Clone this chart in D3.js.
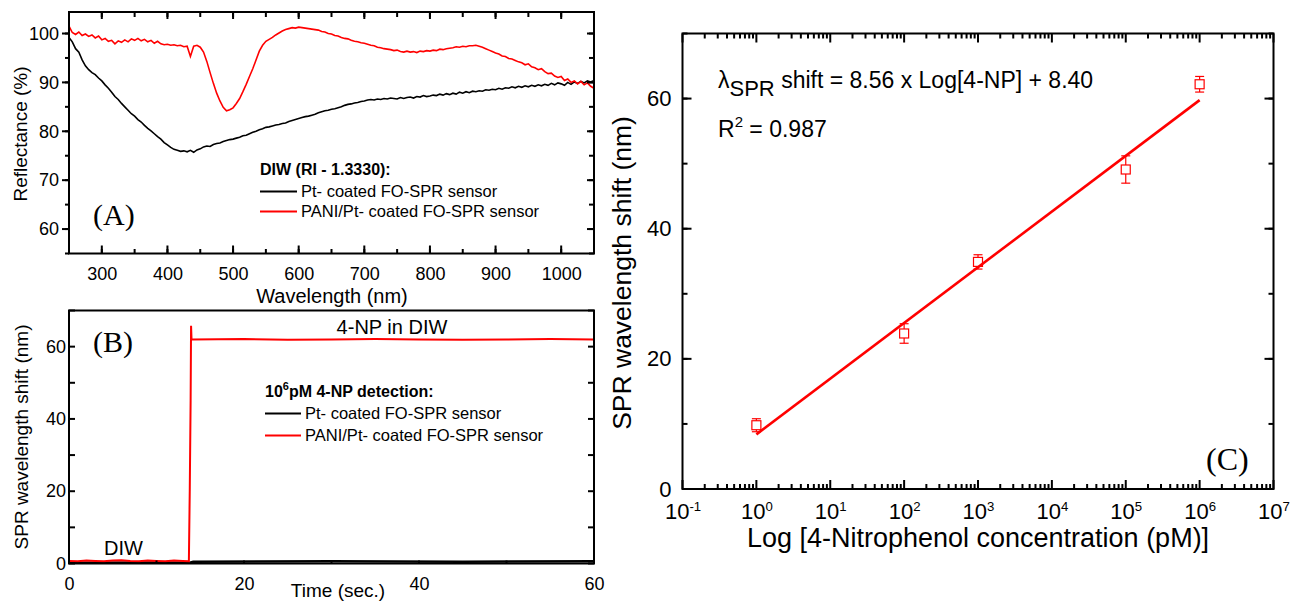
<!DOCTYPE html>
<html>
<head>
<meta charset="utf-8">
<script src="https://cdn.jsdelivr.net/npm/d3@7"></script>
<style>
body { margin: 0; background: #fff; }
svg { font-family: Arial, "Liberation Sans", sans-serif; }
</style>
</head>
<body>
<svg id="fig" width="1292" height="603"></svg>
<script>
// ---- data ----

// (A) reflectance spectra, every 5 nm from 250 to 1050 nm
var wavelength = d3.range(250, 1051, 5);
var reflPANI = [
  101.5,100.2,99.8,100.3,99.6,99.9,99.4,99.7,99.1,99.5,
  98.7,99.0,98.4,98.6,97.9,98.5,98.2,98.7,98.3,98.9,
  98.6,99.0,98.5,98.8,98.3,98.6,98.0,98.4,97.9,97.7,
  97.8,97.6,97.7,97.5,97.6,97.3,97.4,95.3,97.4,97.6,
  97.2,96.2,94.3,92.0,89.8,87.8,86.2,84.9,84.2,84.4,
  84.8,85.7,86.7,88.1,89.6,91.2,92.8,94.6,96.4,97.6,
  98.4,98.8,99.2,99.7,100.1,100.5,100.8,101.0,101.2,101.1,
  101.3,101.2,101.1,101.0,100.9,100.8,100.7,100.4,100.3,100.0,
  99.9,99.6,99.5,99.2,99.0,98.9,98.6,98.4,98.3,98.1,
  98.0,97.8,97.6,97.5,97.2,97.1,96.9,96.8,96.7,96.5,
  96.6,96.3,96.2,96.4,96.2,96.3,96.1,96.4,96.3,96.5,
  96.4,96.6,96.5,96.8,96.7,96.9,97.0,97.1,97.3,97.2,
  97.4,97.3,97.5,97.5,97.6,97.4,97.2,96.9,96.6,96.3,
  96.0,95.8,95.4,95.3,94.9,94.8,94.5,94.2,94.0,93.6,
  93.8,93.2,93.0,92.6,92.8,92.2,91.8,91.9,91.3,91.0,
  91.2,90.4,90.7,90.0,90.3,89.7,90.2,89.5,89.9,89.2,
  88.8
];
var reflPt = [
  99.2,98.3,96.9,96.2,94.6,93.4,92.6,92.0,91.6,90.9,
  90.3,89.5,88.8,88.0,87.1,86.5,85.7,85.0,84.3,83.6,
  83.1,82.4,81.9,81.2,80.6,80.1,79.5,78.9,78.4,77.7,
  77.2,76.7,76.3,76.1,75.9,76.0,75.8,76.1,75.7,76.2,
  76.4,76.8,77.0,76.9,77.3,77.5,77.6,77.9,78.1,78.3,
  78.4,78.6,78.8,79.1,79.2,79.5,79.8,80.0,80.3,80.5,
  80.8,80.9,81.1,81.3,81.4,81.6,81.7,82.0,82.2,82.4,
  82.6,82.8,83.0,83.1,83.3,83.5,83.8,84.0,84.2,84.3,
  84.5,84.6,84.8,85.0,85.3,85.5,85.6,85.8,85.9,86.1,
  86.2,86.4,86.5,86.4,86.6,86.5,86.7,86.6,86.8,86.7,
  86.6,86.9,86.7,86.9,87.0,86.8,87.1,87.0,87.3,87.1,
  87.2,87.4,87.3,87.6,87.4,87.7,87.5,87.8,87.6,88.0,
  87.8,88.1,87.9,88.2,88.1,88.3,88.2,88.5,88.4,88.6,
  88.5,88.8,88.6,88.9,88.8,89.1,88.9,89.2,89.0,89.3,
  89.1,89.4,89.2,89.5,89.3,89.6,89.4,89.8,89.5,89.9,
  89.7,89.4,90.0,89.6,90.1,89.8,90.2,89.9,90.3,90.1,
  90.4
];
var waveTicks = [300, 400, 500, 600, 700, 800, 900, 1000];
var reflTicks = [60, 70, 80, 90, 100];

// (B) real-time response
var redTime  = [0, 1, 2, 3, 4, 5, 6, 7, 8, 9, 10, 11, 12, 13, 13.7, 13.8, 13.9, 13.95, 14.0, 14.1, 20, 25, 30, 35, 40, 45, 50, 55, 60];
var redShift = [0.7, 0.6, 0.8, 0.7, 0.6, 0.8, 0.9, 0.7, 0.6, 0.8, 0.7, 0.6, 0.8, 0.7, 0.6, 20, 45, 65.8, 62.2, 62.0, 62.1, 61.9, 62.0, 62.1, 62.0, 61.9, 62.0, 62.1, 62.0];
var blackTime  = [0, 10, 13.8, 14.2, 30, 45, 60];
var blackShift = [0.2, 0.3, 0.2, 0.5, 0.6, 0.5, 0.6];
var timeTicks = [0, 20, 40, 60];
var shiftTicksB = [0, 20, 40, 60];

// (C) calibration
var conc     = [1, 1e2, 1e3, 1e5, 1e6];
var shiftC   = [9.8, 23.9, 34.9, 49.1, 62.2];
var errC     = [1.0, 1.5, 1.1, 2.1, 1.2];
var fitConc  = [1, 1e6];
var fitShift = [8.40, 59.76];
var decadeTicks = [1e-1, 1e0, 1e1, 1e2, 1e3, 1e4, 1e5, 1e6, 1e7];
var shiftTicksC = [0, 20, 40, 60];

var RED = "#ff0000";
var svg = d3.select("#fig");

// labels only from d3 axes, tick marks drawn separately
function labelAxis(g, fs) {
  g.select(".domain").remove();
  g.selectAll(".tick line").remove();
  g.selectAll(".tick text").attr("fill", "#000").attr("font-size", fs);
  return g;
}

// tick marks: len > 0 points into the plot, len < 0 points out
function marks(scale, values, side, pos, len) {
  var horiz = side === "bottom" || side === "top";
  var sgn = (side === "bottom" || side === "right") ? -1 : 1;
  svg.append("g").selectAll("line").data(values).join("line")
    .attr("x1", function (d) { return horiz ? scale(d) : pos; })
    .attr("x2", function (d) { return horiz ? scale(d) : pos + sgn * len; })
    .attr("y1", function (d) { return horiz ? pos : scale(d); })
    .attr("y2", function (d) { return horiz ? pos + sgn * len : scale(d); })
    .attr("stroke", "#000").attr("stroke-width", 2);
}

function frame(x0, y0, x1, y1) {
  svg.append("rect").attr("x", x0).attr("y", y0)
    .attr("width", x1 - x0).attr("height", y1 - y0)
    .attr("fill", "none").attr("stroke", "#000").attr("stroke-width", 2);
}

// ================= Panel A =================
var xA = d3.scaleLinear().domain([250, 1050]).range([69, 594]);
var yA = d3.scaleLinear().domain([55, 104.4]).range([253.5, 12]);
var minorWave = d3.range(250, 1051, 50);
var minorRefl = d3.range(55, 105, 5);

svg.append("defs").append("clipPath").attr("id", "clipA").append("rect")
  .attr("x", 69).attr("y", 12).attr("width", 525).attr("height", 241.5);

var lineA = function (vals) {
  return d3.line().x(function (d, i) { return xA(wavelength[i]); })
    .y(function (d) { return yA(d); })(vals);
};
svg.append("path").attr("d", lineA(reflPt)).attr("clip-path", "url(#clipA)")
  .attr("fill", "none").attr("stroke", "#000").attr("stroke-width", 1.6);
svg.append("path").attr("d", lineA(reflPANI)).attr("clip-path", "url(#clipA)")
  .attr("fill", "none").attr("stroke", RED).attr("stroke-width", 1.6);

marks(xA, minorWave, "bottom", 253.5, 4.5);
marks(xA, waveTicks, "bottom", 253.5, 8);
marks(xA, minorWave, "top", 12, 5);
marks(xA, waveTicks, "top", 12, 7);
marks(yA, minorRefl, "left", 69, -4);
marks(yA, reflTicks, "left", 69, -7);
marks(yA, minorRefl, "right", 594, 5);
marks(yA, reflTicks, "right", 594, 7);

svg.append("g").attr("transform", "translate(0,253.5)")
  .call(d3.axisBottom(xA).tickValues(waveTicks).tickSize(0).tickPadding(14).tickFormat(d3.format("d")))
  .call(labelAxis, 18);
svg.append("g").attr("transform", "translate(69,0)")
  .call(d3.axisLeft(yA).tickValues(reflTicks).tickSize(0).tickPadding(10))
  .call(labelAxis, 18);

frame(69, 12, 594, 253.5);

svg.append("text").attr("transform", "translate(27,134) rotate(-90)")
  .attr("text-anchor", "middle").attr("font-size", 19).text("Reflectance (%)");
svg.append("text").attr("x", 332).attr("y", 303)
  .attr("text-anchor", "middle").attr("font-size", 20).text("Wavelength (nm)");
svg.append("text").attr("x", 93).attr("y", 225)
  .attr("font-family", "'Liberation Serif','Times New Roman',serif")
  .attr("font-size", 30).text("(A)");

// legend A
svg.append("text").attr("x", 260).attr("y", 175).attr("font-size", 16)
  .attr("font-weight", "bold").text("DIW (RI - 1.3330):");
svg.append("line").attr("x1", 260).attr("x2", 297).attr("y1", 191.5).attr("y2", 191.5)
  .attr("stroke", "#000").attr("stroke-width", 2);
svg.append("text").attr("x", 301).attr("y", 197).attr("font-size", 16.5)
  .text("Pt- coated FO-SPR sensor");
svg.append("line").attr("x1", 260).attr("x2", 297).attr("y1", 211.5).attr("y2", 211.5)
  .attr("stroke", RED).attr("stroke-width", 2);
svg.append("text").attr("x", 301).attr("y", 217).attr("font-size", 16.5)
  .text("PANI/Pt- coated FO-SPR sensor");

// ================= Panel B =================
var xB = d3.scaleLinear().domain([0, 60]).range([69, 594]);
var yB = d3.scaleLinear().domain([0, 70]).range([563.5, 310.5]);
var minorShiftB = d3.range(0, 71, 10);
var minorTimeB = d3.range(0, 61, 10);

var lineB = function (ts, vs) {
  return d3.line().x(function (d, i) { return xB(ts[i]); })
    .y(function (d) { return yB(d); })(vs);
};
svg.append("path").attr("d", lineB(blackTime, blackShift))
  .attr("fill", "none").attr("stroke", "#000").attr("stroke-width", 2.5);
svg.append("path").attr("d", lineB(redTime, redShift))
  .attr("fill", "none").attr("stroke", RED).attr("stroke-width", 2);

marks(yB, minorShiftB, "left", 69, 6);
marks(yB, minorShiftB, "right", 594, 6);
marks(xB, minorTimeB, "bottom", 563.5, 3);

svg.append("g").attr("transform", "translate(0,563.5)")
  .call(d3.axisBottom(xB).tickValues(timeTicks).tickSize(0).tickPadding(14))
  .call(labelAxis, 18);
svg.append("g").attr("transform", "translate(69,0)")
  .call(d3.axisLeft(yB).tickValues(shiftTicksB).tickSize(0).tickPadding(3))
  .call(labelAxis, 18);

frame(69, 310.5, 594, 563.5);

svg.append("text").attr("transform", "translate(28,437) rotate(-90)")
  .attr("text-anchor", "middle").attr("font-size", 19).text("SPR wavelength shift (nm)");
svg.append("text").attr("x", 338).attr("y", 597)
  .attr("text-anchor", "middle").attr("font-size", 19).text("Time (sec.)");
svg.append("text").attr("x", 93).attr("y", 352)
  .attr("font-family", "'Liberation Serif','Times New Roman',serif")
  .attr("font-size", 30).text("(B)");
svg.append("text").attr("x", 392).attr("y", 334).attr("text-anchor", "middle")
  .attr("font-size", 20).text("4-NP in DIW");
svg.append("text").attr("x", 104).attr("y", 555).attr("font-size", 20).text("DIW");

// legend B
var lgB = svg.append("text").attr("x", 265).attr("y", 397).attr("font-size", 16)
  .attr("font-weight", "bold");
lgB.append("tspan").text("10");
lgB.append("tspan").attr("dy", -7).attr("font-size", 11).text("6");
lgB.append("tspan").attr("dy", 7).text("pM 4-NP detection:");
svg.append("line").attr("x1", 265).attr("x2", 301).attr("y1", 413.5).attr("y2", 413.5)
  .attr("stroke", "#000").attr("stroke-width", 2);
svg.append("text").attr("x", 305).attr("y", 419).attr("font-size", 16.5)
  .text("Pt- coated FO-SPR sensor");
svg.append("line").attr("x1", 265).attr("x2", 301).attr("y1", 435.5).attr("y2", 435.5)
  .attr("stroke", RED).attr("stroke-width", 2);
svg.append("text").attr("x", 305).attr("y", 441).attr("font-size", 16.5)
  .text("PANI/Pt- coated FO-SPR sensor");

// ================= Panel C =================
var xC = d3.scaleLog().domain([1e-1, 1e7]).range([682.5, 1273.5]);
var yC = d3.scaleLinear().domain([0, 70]).range([489, 33.5]);
var minorConc = [];
decadeTicks.slice(0, -1).forEach(function (dec) {
  [2, 3, 4, 5, 6, 7, 8, 9].forEach(function (m) { minorConc.push(dec * m); });
});
var minorShiftC = d3.range(0, 71, 10);

// error bars + open squares
var pts = svg.append("g");
conc.forEach(function (c, i) {
  var cx = xC(c), hi = yC(shiftC[i] + errC[i]), lo = yC(shiftC[i] - errC[i]);
  pts.append("line").attr("x1", cx).attr("x2", cx).attr("y1", hi).attr("y2", lo)
    .attr("stroke", RED).attr("stroke-width", 1.2);
  [hi, lo].forEach(function (yy) {
    pts.append("line").attr("x1", cx - 4.5).attr("x2", cx + 4.5).attr("y1", yy).attr("y2", yy)
      .attr("stroke", RED).attr("stroke-width", 1.2);
  });
  pts.append("rect").attr("x", cx - 4.5).attr("y", yC(shiftC[i]) - 4.5)
    .attr("width", 9).attr("height", 9)
    .attr("fill", "#fff").attr("stroke", RED).attr("stroke-width", 1.2);
});

svg.append("path")
  .attr("d", d3.line().x(function (d, i) { return xC(fitConc[i]); })
    .y(function (d) { return yC(d); })(fitShift))
  .attr("fill", "none").attr("stroke", RED).attr("stroke-width", 2.6);

marks(xC, minorConc, "bottom", 489, 5);
marks(xC, decadeTicks, "bottom", 489, 9);
marks(xC, minorConc, "top", 33.5, 5);
marks(xC, decadeTicks, "top", 33.5, 9);
marks(yC, minorShiftC, "left", 682.5, 5);
marks(yC, shiftTicksC, "left", 682.5, 9);
marks(yC, minorShiftC, "right", 1273.5, 5);
marks(yC, shiftTicksC, "right", 1273.5, 9);

var gxC = svg.append("g").attr("transform", "translate(0,489)")
  .call(d3.axisBottom(xC).tickValues(decadeTicks).tickSize(0).tickPadding(14).tickFormat(""))
  .call(labelAxis, 22);
gxC.selectAll(".tick text").each(function (d) {
  var e = Math.round(Math.log10(d));
  var t = d3.select(this);
  t.append("tspan").text("10");
  t.append("tspan").attr("dy", "-0.55em").attr("font-size", "0.6em").text(e);
});
svg.append("g").attr("transform", "translate(682.5,0)")
  .call(d3.axisLeft(yC).tickValues(shiftTicksC).tickSize(0).tickPadding(11))
  .call(labelAxis, 22);

frame(682.5, 33.5, 1273.5, 489);

svg.append("text").attr("transform", "translate(631,273) rotate(-90)")
  .attr("text-anchor", "middle").attr("font-size", 26.5).text("SPR wavelength shift (nm)");
svg.append("text").attr("x", 978).attr("y", 547)
  .attr("text-anchor", "middle").attr("font-size", 27)
  .text("Log [4-Nitrophenol concentration (pM)]");
svg.append("text").attr("x", 1206).attr("y", 470)
  .attr("font-family", "'Liberation Serif','Times New Roman',serif")
  .attr("font-size", 32).text("(C)");

var eq = svg.append("text").attr("x", 718).attr("y", 88).attr("font-size", 23);
eq.append("tspan").text("\u03bb");
eq.append("tspan").attr("dy", 8).attr("font-size", 22).text("SPR");
eq.append("tspan").attr("dy", -8).text(" shift = 8.56 x Log[4-NP] + 8.40");
var r2 = svg.append("text").attr("x", 718).attr("y", 137).attr("font-size", 23);
r2.append("tspan").text("R");
r2.append("tspan").attr("dy", -10).attr("font-size", 15).text("2");
r2.append("tspan").attr("dy", 10).text(" = 0.987");
</script>
</body>
</html>
